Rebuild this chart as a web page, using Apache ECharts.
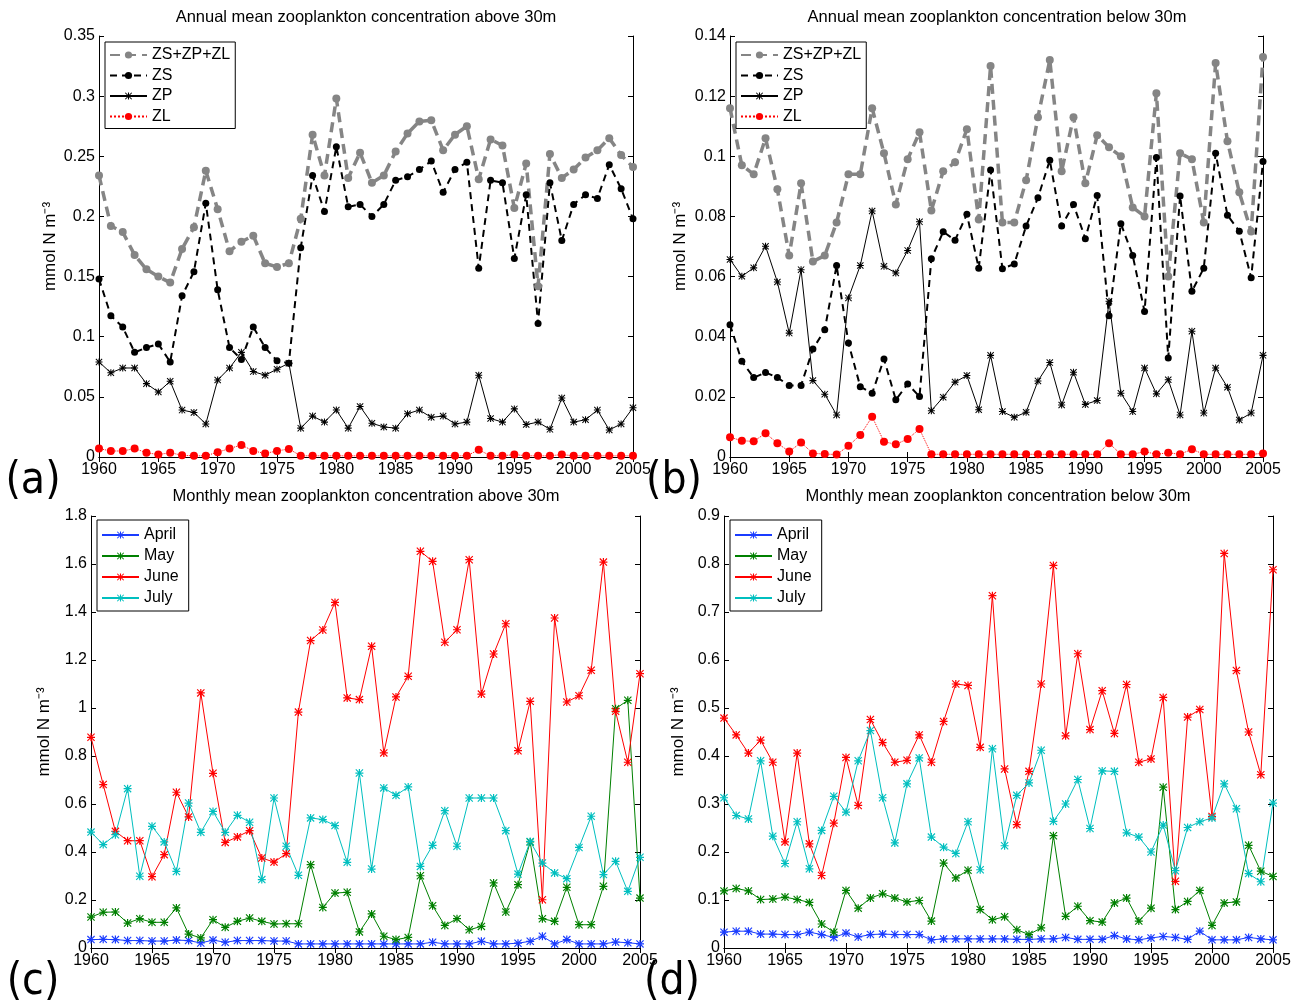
<!DOCTYPE html>
<html>
<head>
<meta charset="utf-8">
<script src="https://cdn.jsdelivr.net/npm/echarts@6/dist/echarts.min.js"></script>
<style>
  html, body { margin: 0; padding: 0; background: #fff; }
  #chart-container { width: 1299px; height: 1006px; }
</style>
</head>
<body>
<div id="chart-container"></div>
<script>
var years = [1960, 1961, 1962, 1963, 1964, 1965, 1966, 1967, 1968, 1969,
  1970, 1971, 1972, 1973, 1974, 1975, 1976, 1977, 1978, 1979,
  1980, 1981, 1982, 1983, 1984, 1985, 1986, 1987, 1988, 1989,
  1990, 1991, 1992, 1993, 1994, 1995, 1996, 1997, 1998, 1999,
  2000, 2001, 2002, 2003, 2004, 2005];

// (a) annual mean above 30m
var aTotal = [0.234, 0.192, 0.187, 0.168, 0.156, 0.150, 0.145, 0.173, 0.191, 0.238,
  0.206, 0.171, 0.179, 0.184, 0.161, 0.158, 0.161, 0.198, 0.268, 0.234,
  0.298, 0.232, 0.253, 0.228, 0.234, 0.254, 0.269, 0.279, 0.280, 0.255,
  0.268, 0.275, 0.231, 0.264, 0.259, 0.207, 0.244, 0.142, 0.252, 0.232,
  0.239, 0.249, 0.255, 0.265, 0.251, 0.241];
var aZS = [0.148, 0.1175, 0.108, 0.087, 0.091, 0.094, 0.079, 0.134, 0.154, 0.211,
  0.139, 0.091, 0.081, 0.108, 0.091, 0.080, 0.078, 0.174, 0.234, 0.204,
  0.258, 0.208, 0.210, 0.200, 0.210, 0.230, 0.233, 0.239, 0.246, 0.220,
  0.239, 0.245, 0.157, 0.230, 0.228, 0.165, 0.218, 0.111, 0.228, 0.180,
  0.210, 0.218, 0.215, 0.243, 0.223, 0.198];
var aZP = [0.079, 0.070, 0.074, 0.074, 0.061, 0.054, 0.063, 0.039, 0.037, 0.0275,
  0.064, 0.074, 0.087, 0.071, 0.068, 0.073, 0.078, 0.024, 0.034, 0.029,
  0.039, 0.024, 0.042, 0.028, 0.025, 0.024, 0.036, 0.039, 0.033, 0.034,
  0.0275, 0.029, 0.068, 0.032, 0.029, 0.040, 0.027, 0.029, 0.023, 0.049,
  0.029, 0.031, 0.039, 0.0225, 0.0275, 0.041];
var aZL = [0.007, 0.005, 0.005, 0.007, 0.0036, 0.002, 0.0036, 0.0014, 0.001, 0.001,
  0.004, 0.007, 0.010, 0.005, 0.003, 0.005, 0.0067, 0.001, 0.001, 0.001,
  0.001, 0.001, 0.001, 0.001, 0.001, 0.001, 0.001, 0.001, 0.001, 0.001,
  0.001, 0.001, 0.006, 0.001, 0.001, 0.002, 0.001, 0.001, 0.001, 0.002,
  0.001, 0.001, 0.001, 0.001, 0.001, 0.001];

// (b) annual mean below 30m
var bTotal = [0.116, 0.097, 0.094, 0.106, 0.089, 0.067, 0.091, 0.065, 0.067, 0.078,
  0.094, 0.094, 0.116, 0.101, 0.084, 0.099, 0.108, 0.082, 0.095, 0.098,
  0.109, 0.079, 0.130, 0.078, 0.078, 0.092, 0.113, 0.132, 0.095, 0.113,
  0.091, 0.107, 0.103, 0.100, 0.083, 0.080, 0.121, 0.060, 0.101, 0.099,
  0.078, 0.131, 0.105, 0.088, 0.075, 0.133];
var bZS = [0.044, 0.0318, 0.0264, 0.0281, 0.0264, 0.0238, 0.0238, 0.0359, 0.0423, 0.0637,
  0.0379, 0.0234, 0.0212, 0.0326, 0.019, 0.0243, 0.0201, 0.0659, 0.0749, 0.0721,
  0.0807, 0.0628, 0.0954, 0.0626, 0.0642, 0.0768, 0.0862, 0.0987, 0.0768, 0.084,
  0.0726, 0.087, 0.047, 0.0776, 0.067, 0.0484, 0.0996, 0.0329, 0.0868, 0.0551,
  0.0628, 0.101, 0.0804, 0.0751, 0.0596, 0.0983];
var bZP = [0.0657, 0.0601, 0.0629, 0.0701, 0.0582, 0.0412, 0.0623, 0.0254, 0.0209, 0.014,
  0.0529, 0.0637, 0.0818, 0.0634, 0.0612, 0.0687, 0.0782, 0.0154, 0.0199, 0.0249,
  0.0271, 0.0157, 0.0338, 0.0151, 0.0132, 0.0149, 0.0253, 0.0314, 0.0173, 0.0282,
  0.0175, 0.0188, 0.0518, 0.0212, 0.0151, 0.0296, 0.021, 0.0257, 0.014, 0.0418,
  0.0146, 0.0296, 0.0232, 0.0123, 0.0146, 0.0338];
var bZL = [0.0066, 0.0054, 0.0052, 0.0079, 0.0046, 0.0018, 0.0048, 0.0012, 0.001, 0.0008,
  0.0037, 0.0073, 0.0134, 0.0051, 0.0042, 0.006, 0.0093, 0.0009, 0.0009, 0.0009,
  0.0009, 0.0009, 0.0009, 0.0009, 0.0009, 0.0009, 0.0009, 0.0009, 0.0009, 0.0009,
  0.0009, 0.0009, 0.0046, 0.0009, 0.0009, 0.0018, 0.0009, 0.0014, 0.0009, 0.0026,
  0.0009, 0.0009, 0.0009, 0.0009, 0.0009, 0.0012];

// (c) monthly mean above 30m
var cApril = [0.035, 0.036, 0.035, 0.031, 0.031, 0.029, 0.029, 0.033, 0.031, 0.021,
  0.033, 0.024, 0.031, 0.031, 0.031, 0.029, 0.029, 0.017, 0.017, 0.017,
  0.017, 0.017, 0.017, 0.017, 0.017, 0.017, 0.017, 0.017, 0.024, 0.017,
  0.017, 0.017, 0.028, 0.017, 0.017, 0.020, 0.028, 0.049, 0.017, 0.035,
  0.017, 0.017, 0.017, 0.025, 0.022, 0.017];
var cMay = [0.129, 0.149, 0.15, 0.104, 0.122, 0.107, 0.107, 0.167, 0.058, 0.042,
  0.118, 0.086, 0.111, 0.125, 0.111, 0.1, 0.101, 0.101, 0.347, 0.169,
  0.229, 0.232, 0.067, 0.142, 0.049, 0.035, 0.044, 0.301, 0.176, 0.094,
  0.122, 0.076, 0.09, 0.271, 0.15, 0.264, 0.442, 0.122, 0.111, 0.253,
  0.097, 0.097, 0.257, 0.997, 1.032, 0.208];
var cJune = [0.878, 0.681, 0.486, 0.447, 0.447, 0.297, 0.389, 0.649, 0.546, 1.063,
  0.728, 0.44, 0.463, 0.489, 0.375, 0.358, 0.393, 0.983, 1.281, 1.325,
  1.44, 1.042, 1.035, 1.257, 0.813, 1.046, 1.132, 1.653, 1.611, 1.274,
  1.326, 1.618, 1.058, 1.225, 1.351, 0.822, 1.028, 0.201, 1.375, 1.025,
  1.051, 1.157, 1.608, 0.986, 0.774, 1.143];
var cJuly = [0.483, 0.431, 0.472, 0.664, 0.299, 0.507, 0.442, 0.319, 0.604, 0.482,
  0.569, 0.482, 0.553, 0.524, 0.285, 0.625, 0.424, 0.303, 0.542, 0.535,
  0.51, 0.357, 0.729, 0.329, 0.667, 0.636, 0.671, 0.34, 0.428, 0.572,
  0.424, 0.625, 0.625, 0.625, 0.489, 0.308, 0.444, 0.354, 0.313, 0.289,
  0.419, 0.549, 0.306, 0.361, 0.236, 0.378];

// (d) monthly mean below 30m
var dApril = [0.033, 0.035, 0.035, 0.029, 0.029, 0.028, 0.028, 0.033, 0.028, 0.022,
  0.031, 0.023, 0.028, 0.029, 0.028, 0.028, 0.028, 0.017, 0.019, 0.019,
  0.019, 0.019, 0.019, 0.019, 0.018, 0.018, 0.019, 0.019, 0.022, 0.018,
  0.018, 0.018, 0.026, 0.019, 0.017, 0.021, 0.024, 0.022, 0.018, 0.035,
  0.017, 0.017, 0.017, 0.022, 0.019, 0.017];
var dMay = [0.119, 0.124, 0.119, 0.101, 0.102, 0.106, 0.101, 0.095, 0.05, 0.033,
  0.12, 0.083, 0.104, 0.113, 0.104, 0.096, 0.099, 0.056, 0.177, 0.146,
  0.162, 0.08, 0.059, 0.065, 0.038, 0.028, 0.042, 0.234, 0.066, 0.087,
  0.057, 0.054, 0.094, 0.104, 0.056, 0.083, 0.335, 0.08, 0.097, 0.12,
  0.047, 0.094, 0.096, 0.214, 0.16, 0.149];
var dJune = [0.479, 0.444, 0.406, 0.433, 0.387, 0.221, 0.406, 0.217, 0.151, 0.26,
  0.397, 0.297, 0.476, 0.428, 0.387, 0.391, 0.444, 0.387, 0.472, 0.55,
  0.547, 0.418, 0.734, 0.373, 0.257, 0.368, 0.55, 0.797, 0.442, 0.613,
  0.455, 0.536, 0.447, 0.549, 0.387, 0.394, 0.522, 0.139, 0.481, 0.497,
  0.274, 0.822, 0.578, 0.45, 0.361, 0.788];
var dJuly = [0.313, 0.276, 0.269, 0.39, 0.233, 0.176, 0.263, 0.165, 0.245, 0.316,
  0.283, 0.39, 0.453, 0.313, 0.219, 0.342, 0.396, 0.231, 0.21, 0.197,
  0.263, 0.163, 0.415, 0.213, 0.318, 0.344, 0.412, 0.264, 0.3, 0.351,
  0.249, 0.369, 0.368, 0.24, 0.231, 0.2, 0.256, 0.161, 0.251, 0.263,
  0.271, 0.342, 0.29, 0.155, 0.138, 0.302];

var xTicks = { min: 1960, max: 2005, interval: 5 };

var dom = document.getElementById('chart-container');
var myChart = echarts.init(dom, null, { renderer: 'canvas' });

var FONT = 'Liberation Sans, Arial, sans-serif';
var STAR = 'path://M4.25 0 L5.75 0 L5.75 10 L4.25 10 Z M0 4.25 L10 4.25 L10 5.75 L0 5.75 Z ' +
  'M1 0 L10 9 L9 10 L0 1 Z M9 0 L10 1 L1 10 L0 9 Z';

function pairs(vals) {
  return years.map(function (y, i) { return [y, vals[i]]; });
}

// panel boxes in px
var panels = [
  { left: 99, top: 36, width: 534, height: 421, ymax: 0.35, yint: 0.05, gap: 40 },
  { left: 730, top: 36, width: 533, height: 421, ymax: 0.14, yint: 0.02, gap: 41 },
  { left: 91, top: 516, width: 549, height: 432, ymax: 1.8, yint: 0.2, gap: 38 },
  { left: 724, top: 516, width: 549, height: 432, ymax: 0.9, yint: 0.1, gap: 37 }
];

var grids = [], xAxes = [], yAxes = [];
panels.forEach(function (p, i) {
  grids.push({ left: p.left, top: p.top, width: p.width, height: p.height, show: false });
  var lineStyle = { color: '#000', width: 1 };
  xAxes.push({
    type: 'value', gridIndex: i, position: 'bottom',
    min: xTicks.min, max: xTicks.max, interval: xTicks.interval,
    axisLine: { lineStyle: lineStyle },
    axisTick: { inside: true, length: 5, lineStyle: lineStyle },
    axisLabel: { color: '#000', fontSize: 16, fontFamily: FONT, margin: 5,
      formatter: function (v) { return String(v); } },
    splitLine: { show: false }
  });
  xAxes.push({
    type: 'value', gridIndex: i, position: 'top',
    min: xTicks.min, max: xTicks.max, interval: xTicks.interval,
    axisLine: { lineStyle: lineStyle },
    axisTick: { inside: true, length: 5, lineStyle: lineStyle },
    axisLabel: { show: false }, splitLine: { show: false }
  });
  yAxes.push({
    type: 'value', gridIndex: i, position: 'left',
    min: 0, max: p.ymax, interval: p.yint,
    name: 'mmol N m\u207B\u00B3', nameLocation: 'middle', nameGap: p.gap,
    nameTextStyle: { color: '#000', fontSize: 17, fontFamily: FONT },
    axisLine: { show: true, lineStyle: lineStyle },
    axisTick: { show: true, inside: true, length: 5, lineStyle: lineStyle },
    axisLabel: { color: '#000', fontSize: 16, fontFamily: FONT, margin: 4 },
    splitLine: { show: false }
  });
  yAxes.push({
    type: 'value', gridIndex: i, position: 'right',
    min: 0, max: p.ymax, interval: p.yint,
    axisLine: { show: true, lineStyle: lineStyle },
    axisTick: { show: true, inside: true, length: 5, lineStyle: lineStyle },
    axisLabel: { show: false }, splitLine: { show: false }
  });
});

function annualSeries(idx, total, zs, zp, zl) {
  var ax = { xAxisIndex: idx * 2, yAxisIndex: idx * 2 };
  return [
    Object.assign({ name: 'ZS+ZP+ZL', type: 'line', data: pairs(total),
      symbol: 'circle', symbolSize: 8, color: '#858585',
      lineStyle: { color: '#858585', width: 3.5, type: [10, 6] } }, ax),
    Object.assign({ name: 'ZS', type: 'line', data: pairs(zs),
      symbol: 'circle', symbolSize: 7, color: '#000',
      lineStyle: { color: '#000', width: 2, type: [7, 5] } }, ax),
    Object.assign({ name: 'ZP', type: 'line', data: pairs(zp),
      symbol: STAR, symbolSize: 7, color: '#000',
      lineStyle: { color: '#000', width: 1 } }, ax),
    Object.assign({ name: 'ZL', type: 'line', data: pairs(zl),
      symbol: 'circle', symbolSize: 8, color: '#ff0000',
      lineStyle: { color: '#ff0000', width: 1, type: 'dotted' } }, ax)
  ];
}

function monthlySeries(idx, apr, may, jun, jul) {
  var names = ['April', 'May', 'June', 'July'];
  var colors = ['#1a3cff', '#008000', '#ff0000', '#00bfbf'];
  return [apr, may, jun, jul].map(function (vals, k) {
    return {
      name: names[k], type: 'line', data: pairs(vals),
      xAxisIndex: idx * 2, yAxisIndex: idx * 2,
      symbol: STAR, symbolSize: 8, color: colors[k],
      lineStyle: { color: colors[k], width: 1 }
    };
  });
}

var series = [].concat(
  annualSeries(0, aTotal, aZS, aZP, aZL),
  annualSeries(1, bTotal, bZS, bZP, bZL),
  monthlySeries(2, cApril, cMay, cJune, cJuly),
  monthlySeries(3, dApril, dMay, dJune, dJuly)
);

function legendAt(left, top, names, gap, pad) {
  return {
    data: names, orient: 'vertical', left: left, top: top,
    itemWidth: 37, itemHeight: 9, itemGap: gap,
    padding: pad,
    borderColor: '#000', borderWidth: 1, backgroundColor: '#fff',
    selectedMode: false,
    textStyle: { color: '#000', fontSize: 16, fontFamily: FONT }
  };
}

var annualNames = ['ZS+ZP+ZL', 'ZS', 'ZP', 'ZL'];
var monthNames = ['April', 'May', 'June', 'July'];

function label(text, x, y, size, font) {
  return {
    type: 'text', x: x, y: y,
    style: { text: text, fill: '#000', font: size + 'px ' + font,
      textAlign: 'center', textVerticalAlign: 'middle' }
  };
}

var titleFont = 'Liberation Sans, Arial, sans-serif';
var tagFont = '"DejaVu Sans Condensed", "DejaVu Sans", sans-serif';

var option = {
  animation: false,
  backgroundColor: '#fff',
  grid: grids,
  xAxis: xAxes,
  yAxis: yAxes,
  legend: [
    legendAt(105, 42, annualNames, 4.5, [5, 5, 4, 4]),
    legendAt(736, 42, annualNames, 4.5, [5, 5, 4, 4]),
    legendAt(97, 520, monthNames, 5, [7, 10, 5, 4]),
    legendAt(730, 520, monthNames, 5, [7, 10, 5, 4])
  ],
  graphic: [
    label('Annual mean zooplankton concentration above 30m', 366, 17, 16.5, titleFont),
    label('Annual mean zooplankton concentration below 30m', 997, 17, 16.5, titleFont),
    label('Monthly mean zooplankton concentration above 30m', 366, 496, 16.5, titleFont),
    label('Monthly mean zooplankton concentration below 30m', 998, 496, 16.5, titleFont),
    label('(a)', 33, 482, 44, tagFont),
    label('(b)', 674, 482, 44, tagFont),
    label('(c)', 33, 983, 44, tagFont),
    label('(d)', 672, 983, 44, tagFont)
  ],
  series: series
};

myChart.setOption(option);
window.addEventListener('resize', myChart.resize);
</script>
</body>
</html>
